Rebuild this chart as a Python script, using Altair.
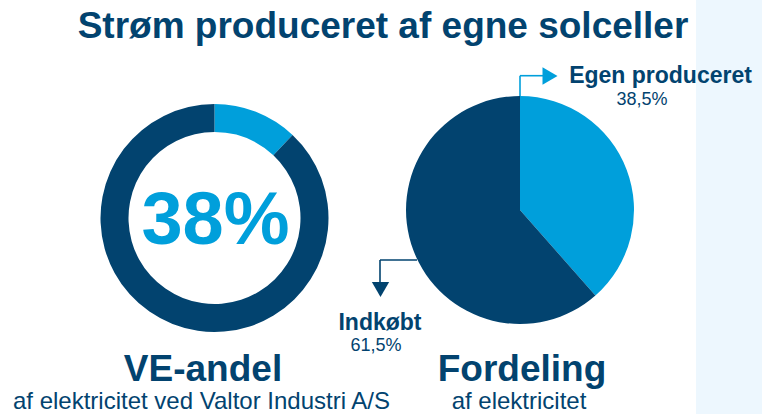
import altair as alt
import pandas as pd

# ---- data ----
title_text = ["Strøm produceret af egne solceller"]

donut_categories = ["VE-andel", "Øvrig"]
donut_values = [12, 88]
donut_center_label = ["38%"]

pie_categories = ["Egen produceret", "Indkøbt"]
pie_values = [38.5, 61.5]
pie_value_labels = ["38,5%", "61,5%"]

left_heading = ["VE-andel"]
left_sub = ["af elektricitet ved Valtor Industri A/S"]
right_heading = ["Fordeling"]
right_sub = ["af elektricitet"]

DARK = "#02436F"
LIGHT = "#009FDB"
PANEL = "#EDF7FE"
FONT = "Liberation Sans"

W, H = 762, 414


def one(text):
    return pd.DataFrame({"t": text})


def txt(text, x, y, size, bold=True, color=DARK, align="center"):
    return alt.Chart(one(text)).mark_text(
        font=FONT, fontSize=size, fontWeight="bold" if bold else "normal",
        color=color, align=align, baseline="alphabetic"
    ).encode(text="t:N", x=alt.value(x), y=alt.value(y))


def rule(x, x2, y, y2, color, w=1.6):
    return alt.Chart(one(["r"])).mark_rule(color=color, strokeWidth=w).encode(
        x=alt.value(x), x2=alt.value(x2), y=alt.value(y), y2=alt.value(y2)
    )


def head(shape, x, y, color, size=300):
    return alt.Chart(one(["h"])).mark_point(
        shape=shape, filled=True, color=color, size=size, opacity=1, strokeWidth=0
    ).encode(x=alt.value(x), y=alt.value(y))


panel = alt.Chart(one(["p"])).mark_rect(color=PANEL).encode(
    x=alt.value(696), x2=alt.value(W), y=alt.value(0), y2=alt.value(H)
)

donut_df = pd.DataFrame({"kategori": donut_categories, "andel": donut_values,
                         "rk": list(range(len(donut_values)))})
donut = alt.Chart(donut_df).mark_arc(innerRadius=86, outerRadius=114).encode(
    theta=alt.Theta("andel:Q", stack=True),
    color=alt.Color("kategori:N", scale=alt.Scale(domain=donut_categories, range=[LIGHT, DARK]),
                    legend=None),
    order=alt.Order("rk:Q"),
    x=alt.value(214.5), y=alt.value(218),
)

pie_df = pd.DataFrame({"kategori": pie_categories, "andel": pie_values,
                       "rk": list(range(len(pie_values)))})
pie = alt.Chart(pie_df).mark_arc(outerRadius=114).encode(
    theta=alt.Theta("andel:Q", stack=True),
    color=alt.Color("kategori:N", scale=alt.Scale(domain=pie_categories, range=[LIGHT, DARK]),
                    legend=None),
    order=alt.Order("rk:Q"),
    x=alt.value(520), y=alt.value(210),
)

layers = [
    panel,
    donut,
    pie,
    txt(title_text, 383, 38, 37),
    txt(donut_center_label, 215.5, 244, 74, color=LIGHT),
    txt(left_heading, 203, 381, 37),
    txt(left_sub, 201.5, 409, 24, bold=False),
    txt(right_heading, 522, 381, 37),
    txt(right_sub, 519, 409, 24, bold=False),
    txt([pie_categories[0]], 660.5, 83, 23),
    txt([pie_value_labels[0]], 642, 105, 18, bold=False),
    txt([pie_categories[1]], 380, 330, 23),
    txt([pie_value_labels[1]], 376, 350.5, 18, bold=False),
    # arrows
    rule(520, 520, 96, 75.7, LIGHT),
    rule(520, 544, 75.7, 75.7, LIGHT),
    head("triangle-right", 550, 76, LIGHT),
    rule(417, 380, 260, 260, DARK),
    rule(380, 380, 260, 284, DARK),
    head("triangle-down", 380.5, 289.5, DARK),
]

chart = alt.layer(*layers).resolve_scale(
    color="independent", theta="independent"
).properties(
    width=W, height=H, padding=0, autosize="none", background="white"
).configure_view(stroke=None)

chart.save("out.html", embed_options={"renderer": "svg", "actions": False})
